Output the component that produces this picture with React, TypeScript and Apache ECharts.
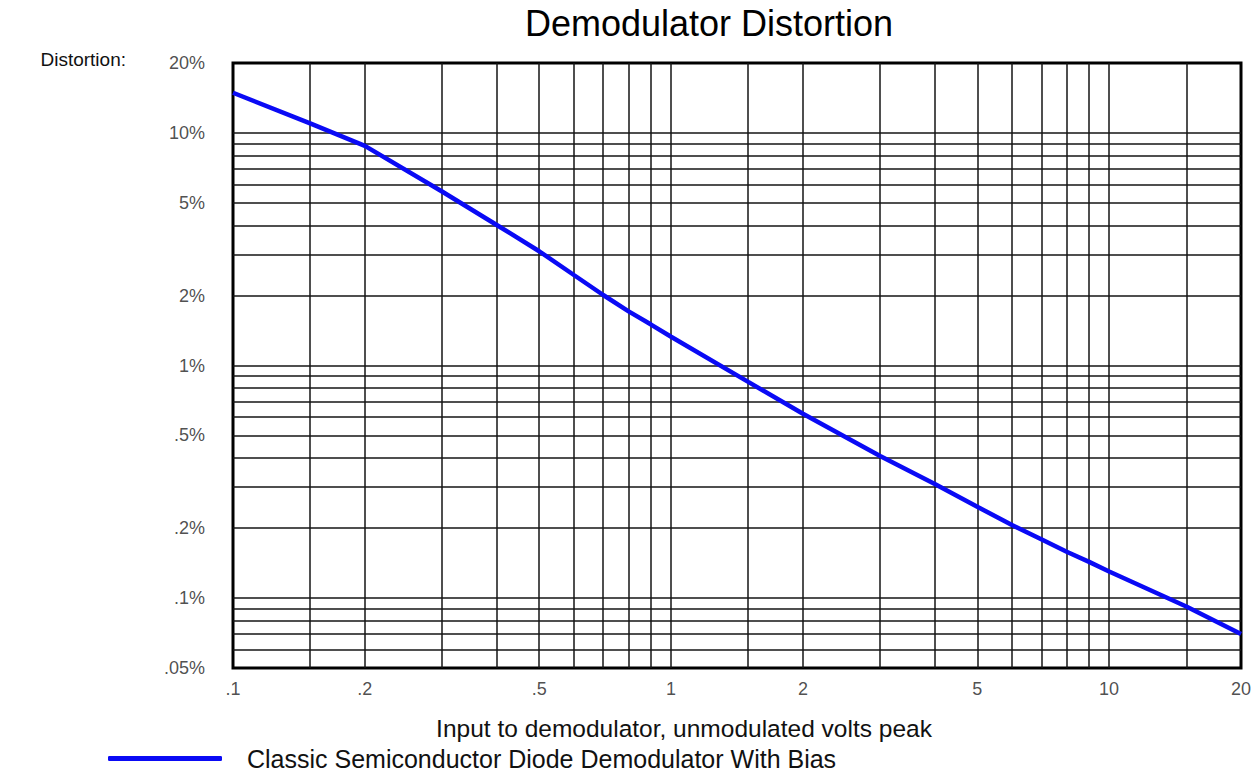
import React, { useEffect, useRef } from "react";
import * as echarts from "echarts";

const xVolts = [0.1, 0.15, 0.2, 0.3, 0.4, 0.5, 0.6, 0.7, 0.8, 0.9, 1, 1.5, 2, 3, 4, 5, 6, 7, 8, 9, 10, 15, 20];
const distortionPct = [14.9, 11.0, 8.8, 5.6, 4.02, 3.1, 2.45, 2.01, 1.71, 1.5, 1.33, 0.85, 0.62, 0.408, 0.309, 0.247, 0.206, 0.179, 0.158, 0.143, 0.13, 0.092, 0.07];

const xTickValues = [0.1, 0.2, 0.5, 1, 2, 5, 10, 20];
const xTickLabels = [".1", ".2", ".5", "1", "2", "5", "10", "20"];
const yTickValues = [20, 10, 5, 2, 1, 0.5, 0.2, 0.1, 0.05];
const yTickLabels = ["20%", "10%", "5%", "2%", "1%", ".5%", ".2%", ".1%", ".05%"];

const xGridValues = [0.15, 0.2, 0.3, 0.4, 0.5, 0.6, 0.7, 0.8, 0.9, 1, 1.5, 2, 3, 4, 5, 6, 7, 8, 9, 10, 15];
const yGridValues = [10, 9, 8, 7, 6, 5, 4, 3, 2, 1, 0.9, 0.8, 0.7, 0.6, 0.5, 0.4, 0.3, 0.2, 0.1, 0.09, 0.08, 0.07, 0.06];

const X_MIN = 0.1;
const X_MAX = 20;
const Y_MIN = 0.05;
const Y_MAX = 20;

const SERIES_NAME = "Classic Semiconductor Diode Demodulator With Bias";
const FONT = "'Liberation Sans', Arial, sans-serif";
const BLUE = "#0a0af5";

export default function App() {
  const ref = useRef<HTMLDivElement>(null);

  useEffect(() => {
    if (!ref.current) return;
    const chart = echarts.init(ref.current, null, { renderer: "svg" });
    const points = xVolts.map((x, i) => [x, distortionPct[i]]);

    const option: any = {
      animation: false,
      backgroundColor: "#ffffff",
      textStyle: { fontFamily: FONT },
      title: {
        text: "Demodulator Distortion",
        left: 704,
        top: 0,
        textAlign: "center",
        textStyle: { fontFamily: FONT, fontSize: 36, fontWeight: "normal", color: "#000" },
      },
      legend: {
        data: [{ name: SERIES_NAME, icon: "roundRect" }],
        left: 103,
        top: 741,
        itemWidth: 114,
        itemHeight: 5,
        selectedMode: false,
        itemStyle: { color: BLUE },
        textStyle: { fontFamily: FONT, fontSize: 25, color: "#111", padding: [0, 0, 0, 20] },
      },
      grid: {
        left: 233,
        top: 63,
        right: 16,
        bottom: 108,
        containLabel: false,
        outerBoundsMode: "none",
        show: true,
        borderColor: "#000",
        borderWidth: 3,
        backgroundColor: "#fff",
      },
      xAxis: {
        type: "log",
        logBase: 10,
        min: X_MIN,
        max: X_MAX,
        name: "Input to demodulator, unmodulated volts peak",
        nameLocation: "middle",
        nameGap: 48,
        nameTextStyle: { fontFamily: FONT, fontSize: 24.5, color: "#111", padding: [0, 106, 0, 0] },
        axisLine: { show: false },
        axisTick: { show: false },
        axisLabel: { show: false },
        splitLine: { show: false },
      },
      yAxis: {
        type: "log",
        logBase: 10,
        min: Y_MIN,
        max: Y_MAX,
        name: "Distortion:",
        nameLocation: "end",
        nameGap: 4,
        nameTextStyle: { fontFamily: FONT, fontSize: 19, color: "#111", align: "right", verticalAlign: "middle", padding: [0, 107, 0, 0] },
        axisLine: { show: false },
        axisTick: { show: false },
        axisLabel: { show: false },
        splitLine: { show: false },
      },
      series: [
        {
          name: "grid",
          type: "line",
          data: points,
          symbol: "none",
          lineStyle: { opacity: 0, width: 0 },
          silent: true,
          z: 1,
          markLine: {
            silent: true,
            symbol: ["none", "none"],
            label: { show: false },
            lineStyle: { color: "#151515", width: 1.5, type: "solid" },
            emphasis: { disabled: true },
            data: [
              ...xGridValues.map((v) => ({ xAxis: v })),
              ...yGridValues.map((v) => ({ yAxis: v })),
            ],
          },
        },
        {
          name: SERIES_NAME,
          type: "line",
          data: points,
          symbol: "none",
          smooth: false,
          z: 5,
          lineStyle: { color: BLUE, width: 4.5 },
          itemStyle: { color: BLUE },
        },
        {
          name: "xTicks",
          type: "scatter",
          data: xTickValues.map((v) => [v, Y_MIN]),
          symbolSize: 0.01,
          clip: false,
          silent: true,
          label: {
            show: true,
            position: "bottom",
            distance: 12,
            fontFamily: FONT,
            fontSize: 18,
            color: "#222",
            formatter: (p: any) => xTickLabels[p.dataIndex],
          },
        },
        {
          name: "yTicks",
          type: "scatter",
          data: yTickValues.map((v) => [X_MIN, v]),
          symbolSize: 0.01,
          clip: false,
          silent: true,
          label: {
            show: true,
            position: "left",
            distance: 28,
            fontFamily: FONT,
            fontSize: 18,
            color: "#222",
            formatter: (p: any) => yTickLabels[p.dataIndex],
          },
        },
      ],
    };

    chart.setOption(option);
    return () => chart.dispose();
  }, []);

  return (
    <div
      ref={ref}
      style={{ position: "fixed", left: 0, top: 0, width: 1257, height: 776 }}
    />
  );
}
